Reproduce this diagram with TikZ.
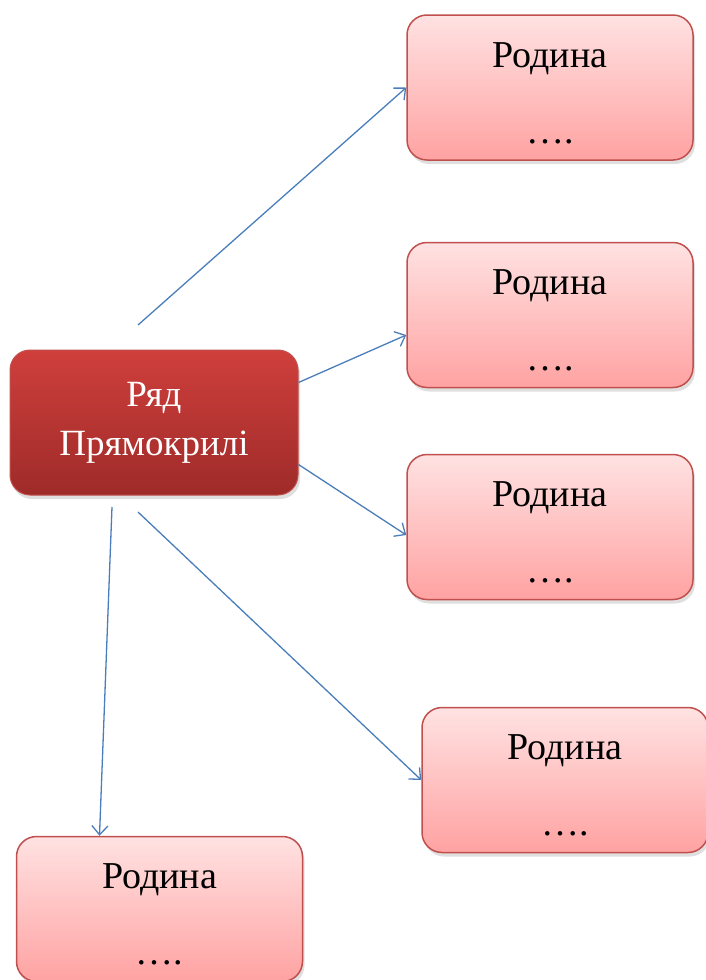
\documentclass[tikz,border=0pt]{standalone}
\usepackage{fontspec}
\setmainfont{Liberation Serif}
\usetikzlibrary{arrows.meta,shadows}
\definecolor{famtop}{HTML}{FFE2E2}
\definecolor{fambot}{HTML}{FFA2A2}
\definecolor{famline}{HTML}{C0504D}
\definecolor{ordtop}{HTML}{CF3F3C}
\definecolor{ordbot}{HTML}{9E2B29}
\definecolor{linkblue}{HTML}{4A7EBB}
\newcommand\famtext{Родина\\[32pt]….}

\begin{document}
\begin{tikzpicture}[x=1pt,y=-1pt,
    famnode/.style={draw=famline,line width=1.5pt,rounded corners=20pt,top color=famtop,bottom color=fambot,
      minimum width=286pt,minimum height=145pt,align=center,font=\fontsize{38}{44}\selectfont,
      text height=111pt,text depth=0pt,
      drop shadow={shadow xshift=2pt,shadow yshift=-4pt,opacity=0.25}},
    ordnode/.style={draw=famline,line width=1pt,rounded corners=20pt,top color=ordtop,bottom color=ordbot,
      minimum width=288pt,minimum height=145pt,align=center,text=white,font=\fontsize{37}{49}\selectfont,
      drop shadow={shadow xshift=2pt,shadow yshift=-4pt,opacity=0.25}},
    link/.style={draw=linkblue,line width=1.3pt,-{Straight Barb[length=9pt,width=16pt]}}]
  \useasboundingbox (0,0) rectangle (706,980);
  % order and families
  \node[ordnode] (order) at (154,422.5) {Ряд\\Прямокрилі};
  \node[famnode] (fam1) at (550,87.5) {\famtext};
  \node[famnode] (fam2) at (550,315) {\famtext};
  \node[famnode] (fam3) at (550,527) {\famtext};
  \node[famnode] (fam4) at (565,780) {\famtext};
  \node[famnode] (fam5) at (159.5,909) {\famtext};
  % free starts of the links
  \coordinate (up) at (138,325); \coordinate (downr) at (138,512); \coordinate (down) at (112,507);
  \draw[link] (up) -- (fam1.west);
  \draw[link] ([yshift=40pt]order.east) -- ([yshift=-20pt]fam2.west);
  \draw[link] ([yshift=-42pt]order.east) -- ([yshift=-8pt]fam3.west);
  \draw[link] (downr) -- (fam4.west);
  \draw[link] (down) -- ([xshift=-60pt]fam5.north);
\end{tikzpicture}
\end{document}
